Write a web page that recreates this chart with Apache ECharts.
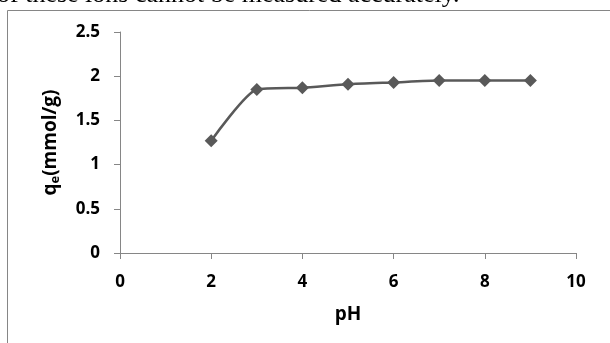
<!DOCTYPE html>
<html>
<head>
<meta charset="utf-8">
<script src="https://cdn.jsdelivr.net/npm/echarts@6/dist/echarts.min.js"></script>
<style>
  html, body { margin: 0; padding: 0; background: #fff; }
  #chart { width: 610px; height: 343px; }
</style>
</head>
<body>
<div id="chart"></div>
<script>
// pH values and adsorption capacity q_e (mmol/g)
const phValues = [2, 3, 4, 5, 6, 7, 8, 9];
const qeValues = [1.27, 1.85, 1.87, 1.91, 1.93, 1.95, 1.95, 1.95];
const xTicks = [0, 2, 4, 6, 8, 10];
const yTicks = [0, 0.5, 1, 1.5, 2, 2.5];

const axisGray = '#868686';
const lineGray = '#595959';
const labelFont = { fontFamily: 'Open Sans', fontWeight: 'bold', fontSize: 17, color: '#000' };

const chart = echarts.init(document.getElementById('chart'), null, { renderer: 'canvas' });

chart.setOption({
  animation: false,
  backgroundColor: '#fff',
  grid: { left: 120, right: 34, top: 32, bottom: 90 },
  xAxis: {
    type: 'value',
    min: xTicks[0],
    max: xTicks[xTicks.length - 1],
    interval: 2,
    name: 'pH',
    nameLocation: 'middle',
    nameGap: 52,
    nameTextStyle: Object.assign({}, labelFont, { fontSize: 19 }),
    axisLine: { show: true, lineStyle: { color: axisGray, width: 1 } },
    axisTick: { show: true, length: 6, lineStyle: { color: axisGray } },
    axisLabel: Object.assign({}, labelFont, { margin: 21 }),
    splitLine: { show: false }
  },
  yAxis: {
    type: 'value',
    min: yTicks[0],
    max: yTicks[yTicks.length - 1],
    interval: 0.5,
    name: '{q|q}{sub|e}{q|(mmol/g)}',
    nameLocation: 'middle',
    nameRotate: 90,
    nameGap: 58,
    nameTextStyle: {
      rich: {
        q: { fontFamily: 'Open Sans', fontWeight: 'bold', fontSize: 19, color: '#000' },
        sub: { fontFamily: 'Open Sans', fontWeight: 'bold', fontSize: 13, color: '#000', padding: [9, 0, 0, 0] }
      }
    },
    axisLine: { show: true, lineStyle: { color: axisGray, width: 1 } },
    axisTick: { show: true, length: 6, lineStyle: { color: axisGray } },
    axisLabel: Object.assign({}, labelFont, { margin: 20 }),
    splitLine: { show: false }
  },
  graphic: [
    {
      type: 'text',
      left: -3,
      top: -18,
      style: {
        text: 'of these ions cannot be measured accurately.',
        fontFamily: 'Liberation Serif',
        fontSize: 26,
        fill: '#000'
      }
    },
    {
      type: 'rect',
      shape: { x: 7.5, y: 10.5, width: 700, height: 400 },
      style: { fill: 'none', stroke: axisGray, lineWidth: 1 },
      z: -1
    }
  ],
  series: [{
    type: 'line',
    data: phValues.map((x, i) => [x, qeValues[i]]),
    smooth: 0.2,
    symbol: 'diamond',
    symbolSize: 13,
    showSymbol: true,
    lineStyle: { color: lineGray, width: 2.5 },
    itemStyle: { color: lineGray }
  }]
});
</script>
</body>
</html>
